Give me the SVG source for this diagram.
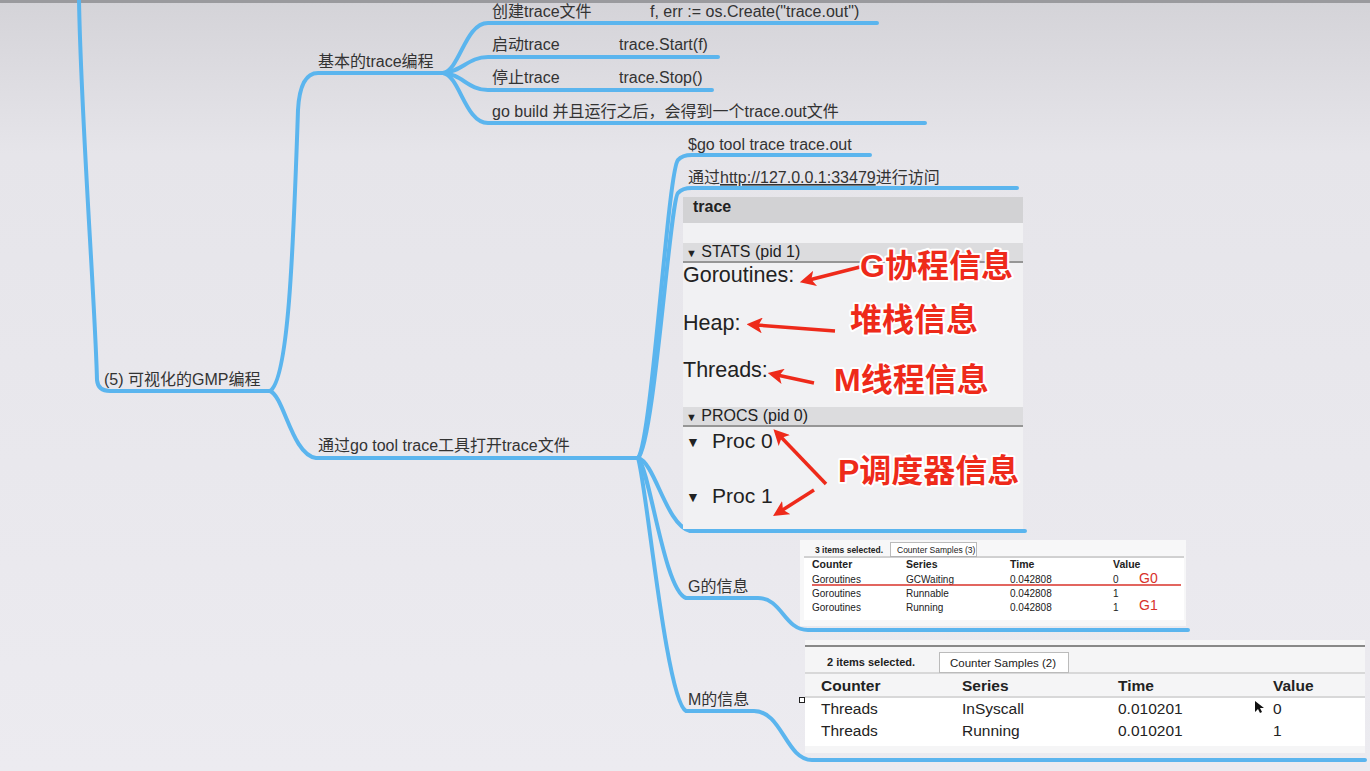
<svg xmlns="http://www.w3.org/2000/svg" width="1370" height="771" viewBox="0 0 1370 771">
<defs>
<linearGradient id="bg" x1="0" y1="0" x2="0" y2="1">
<stop offset="0" stop-color="#d4d3d8"/>
<stop offset="0.2" stop-color="#e6e5ea"/>
<stop offset="1" stop-color="#ecebf0"/>
</linearGradient>
<marker id="ra" viewBox="0 0 10 10" refX="4" refY="5" markerWidth="4.5" markerHeight="4.5" orient="auto-start-reverse">
<path d="M0,0 L10,5 L0,10 L2.5,5 Z" fill="#ee2a1a"/>
</marker>
<style>
.br{fill:none;stroke:#5bb5ee;stroke-width:4;stroke-linecap:round;stroke-linejoin:round}
.t{font-family:"Liberation Sans","Noto Sans CJK SC",sans-serif;font-size:16px;fill:#333}
.s{font-family:"Liberation Sans","Noto Sans CJK SC",sans-serif;fill:#222}
.red{font-family:"Liberation Sans","Noto Sans CJK SC",sans-serif;font-weight:bold;font-size:32px;fill:#ee2a1a;stroke:#fff;stroke-width:4;paint-order:stroke;stroke-linejoin:round}
.arr{fill:none;stroke:#ee2a1a;stroke-width:3.5;marker-start:url(#ra)}
.tb{font-family:"Liberation Sans",sans-serif;fill:#222}
</style>
</defs>
<rect width="1370" height="771" fill="url(#bg)"/>
<rect width="1370" height="3" fill="#9a9a9e"/>

<g id="connectors">
<path class="br" d="M79,0 C81,120 95,300 97,380 Q98,391 110,391 L270,391"/>
<path class="br" d="M270,391 C288,380 293,260 298,110 Q300,73 318,73 L443,73"/>
<path class="br" d="M270,391 C284,396 292,455 316,458 L638,458"/>
<path class="br" d="M443,73 C460,70 465,23 488,23 L877,23"/>
<path class="br" d="M443,73 C462,72 468,57 488,57 L718,57"/>
<path class="br" d="M443,73 C462,74 468,90 488,90 L712,90"/>
<path class="br" d="M443,73 C460,76 465,123 488,123 L925,123"/>
<path class="br" d="M638,458 C652,440 668,170 678,160 Q682,155 692,155 L870,155"/>
<path class="br" d="M638,458 C654,445 670,200 678,193 Q682,188 692,188 L1017,188"/>
<path class="br" d="M638,458 C655,462 666,525 690,531 L1025,531"/>
<path class="br" d="M638,458 C650,470 664,590 686,598 L758,598 C782,598 784,630 808,630 L1188,630"/>
<path class="br" d="M638,458 C646,480 666,700 686,711 L754,711 C782,711 786,760 812,760 L1365,760"/>
</g>

<g id="root"><text class="t" x="104" y="385">(5) 可视化的GMP编程</text></g>
<g id="basic"><text class="t" x="318" y="67">基本的trace编程</text></g>
<g id="create"><text class="t" x="492" y="17">创建trace文件</text><text class="t" x="650" y="17">f, err := os.Create("trace.out")</text></g>
<g id="start"><text class="t" x="492" y="50">启动trace</text><text class="t" x="619" y="50">trace.Start(f)</text></g>
<g id="stop"><text class="t" x="492" y="83">停止trace</text><text class="t" x="619" y="83">trace.Stop()</text></g>
<g id="build"><text class="t" x="492" y="117">go build 并且运行之后，会得到一个trace.out文件</text></g>
<g id="open"><text class="t" x="318" y="451">通过go tool trace工具打开trace文件</text></g>
<g id="cmd"><text class="t" x="688" y="150">$go tool trace trace.out</text></g>
<g id="visit"><text class="t" x="688" y="183">通过<tspan text-decoration="underline">http://127.0.0.1:33479</tspan>进行访问</text></g>

<g id="trace-shot">
<rect x="683" y="197" width="340" height="332" fill="#f1f1f3"/>
<rect x="683" y="197" width="340" height="26" fill="#d2d2d4"/>
<text class="s" x="693" y="212" font-size="16" font-weight="bold" fill="#333">trace</text>
<rect x="683" y="243" width="340" height="18" fill="#dcdcde"/>
<line x1="683" y1="262" x2="1023" y2="262" stroke="#777" stroke-width="1.5"/>
<text class="s" x="686" y="257" font-size="16"><tspan font-size="11">▼</tspan> STATS (pid 1)</text>
<text class="s" x="683" y="282" font-size="21.5">Goroutines:</text>
<text class="s" x="683" y="330" font-size="21.5">Heap:</text>
<text class="s" x="683" y="377" font-size="21.5">Threads:</text>
<rect x="683" y="407" width="340" height="18" fill="#dcdcde"/>
<line x1="683" y1="426" x2="1023" y2="426" stroke="#777" stroke-width="1.5"/>
<text class="s" x="686" y="421" font-size="16"><tspan font-size="11">▼</tspan> PROCS (pid 0)</text>
<text class="s" x="686" y="447" font-size="14">▼</text>
<text class="s" x="712" y="448" font-size="21">Proc 0</text>
<text class="s" x="686" y="502" font-size="14">▼</text>
<text class="s" x="712" y="503" font-size="21">Proc 1</text>
<path class="arr" d="M809,280 L860,267"/>
<path class="arr" d="M756,325 L835,331"/>
<path class="arr" d="M777,375 L814,383"/>
<path class="arr" d="M780,436 L826,484"/>
<path class="arr" d="M781,511 L814,490"/>
<text class="red" x="860" y="277">G协程信息</text>
<text class="red" x="850" y="331">堆栈信息</text>
<text class="red" x="834" y="391">M线程信息</text>
<text class="red" x="838" y="482">P调度器信息</text>
</g>

<g id="g-info">
<text class="t" x="688" y="592">G的信息</text>
<rect x="800" y="540" width="386" height="86" fill="#f7f7f8"/>
<rect x="804" y="558" width="380" height="62" fill="#fff"/>
<text class="tb" x="815" y="553" font-size="8.5" font-weight="bold">3 items selected.</text>
<rect x="890.5" y="542.5" width="86" height="14" fill="#fff" stroke="#bbb"/>
<text class="tb" x="897" y="553" font-size="8.5">Counter Samples (3)</text>
<line x1="804" y1="557" x2="1184" y2="557" stroke="#aaa"/>
<g font-size="10.5" font-weight="bold" class="tb">
<text class="tb" x="812" y="568">Counter</text><text class="tb" x="906" y="568">Series</text><text class="tb" x="1010" y="568">Time</text><text class="tb" x="1113" y="568">Value</text>
</g>
<g font-size="10" class="tb">
<text class="tb" x="812" y="583">Goroutines</text><text class="tb" x="906" y="583">GCWaiting</text><text class="tb" x="1010" y="583">0.042808</text><text class="tb" x="1113" y="583">0</text>
<text class="tb" x="812" y="597">Goroutines</text><text class="tb" x="906" y="597">Runnable</text><text class="tb" x="1010" y="597">0.042808</text><text class="tb" x="1113" y="597">1</text>
<text class="tb" x="812" y="611">Goroutines</text><text class="tb" x="906" y="611">Running</text><text class="tb" x="1010" y="611">0.042808</text><text class="tb" x="1113" y="611">1</text>
</g>
<line x1="812" y1="585" x2="1181" y2="585" stroke="#d8322a" stroke-width="1.5"/>
<text x="1139" y="583" font-family="Liberation Sans,sans-serif" font-size="14" fill="#d8322a">G0</text>
<text x="1139" y="610" font-family="Liberation Sans,sans-serif" font-size="14" fill="#d8322a">G1</text>
</g>

<g id="m-info">
<text class="t" x="688" y="705">M的信息</text>
<rect x="805" y="640" width="560" height="113" fill="#f5f5f6"/>
<line x1="805" y1="646" x2="1365" y2="646" stroke="#888" stroke-width="2"/>
<rect x="805" y="698" width="560" height="48" fill="#fff"/>
<text class="tb" x="827" y="666" font-size="11" font-weight="bold">2 items selected.</text>
<rect x="939.5" y="652.5" width="129" height="20" fill="#fff" stroke="#bbb"/>
<text class="tb" x="950" y="667" font-size="11.5">Counter Samples (2)</text>
<line x1="805" y1="673" x2="1365" y2="673" stroke="#bbb"/>
<line x1="805" y1="697" x2="1365" y2="697" stroke="#bbb"/>
<text class="tb" x="821" y="691" font-size="15.5" font-weight="bold">Counter</text>
<text class="tb" x="962" y="691" font-size="15.5" font-weight="bold">Series</text>
<text class="tb" x="1118" y="691" font-size="15.5" font-weight="bold">Time</text>
<text class="tb" x="1273" y="691" font-size="15.5" font-weight="bold">Value</text>
<text class="tb" x="821" y="714" font-size="15.5">Threads</text>
<text class="tb" x="962" y="714" font-size="15.5">InSyscall</text>
<text class="tb" x="1118" y="714" font-size="15.5">0.010201</text>
<text class="tb" x="1273" y="714" font-size="15.5">0</text>
<text class="tb" x="821" y="736" font-size="15.5">Threads</text>
<text class="tb" x="962" y="736" font-size="15.5">Running</text>
<text class="tb" x="1118" y="736" font-size="15.5">0.010201</text>
<text class="tb" x="1273" y="736" font-size="15.5">1</text>
<rect x="799.5" y="697.5" width="5" height="5" fill="#fff" stroke="#222"/>
<path d="M1255,701 L1255,712 L1258,709 L1260,713 L1262,712 L1260,708 L1264,708 Z" fill="#111"/>
</g>
</svg>
